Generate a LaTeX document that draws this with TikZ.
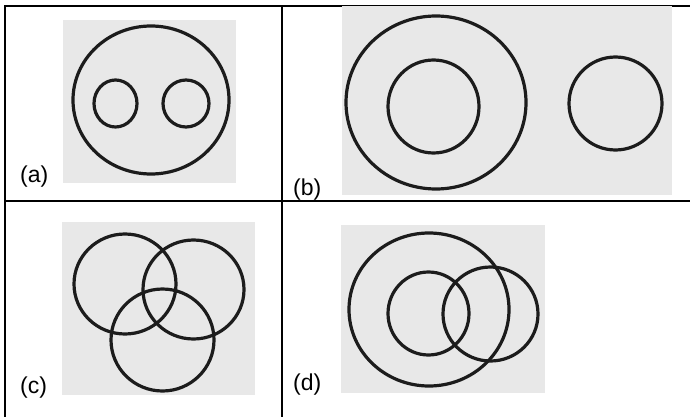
\documentclass[tikz,border=0pt]{standalone}
\usepackage{fontspec}
\setmainfont{Liberation Sans}
\begin{document}
\begin{tikzpicture}[x=1pt,y=-1pt,
  rule/.style={line width=2pt,black},
  photo/.style={fill={rgb,255:red,232;green,232;blue,232},draw=none},
  ring/.style={line width=3.2pt,draw={rgb,255:red,28;green,28;blue,28}},
  lab/.style={anchor=base west,inner sep=0pt,font=\fontsize{23}{23}\selectfont}]
\useasboundingbox[fill=white] (0,0) rectangle (690,417);
% table rules
\draw[rule] (5,417) -- (5,6.5) -- (690,6.5);
\draw[rule] (282,6.5) -- (282,417);
\draw[rule] (5,201) -- (690,201);
% (a)
\fill[photo] (63,20) rectangle (236,183);
\draw[ring] (151,100) ellipse [x radius=78,y radius=74];
\draw[ring] (115.5,103.5) ellipse [x radius=21.5,y radius=23.5];
\draw[ring] (186,103.5) ellipse [x radius=23,y radius=23.5];
\node[lab] (la) at (20,182) {(a)};
% (b)
\fill[photo] (342,6) rectangle (672,195);
\draw[ring] (436,102.5) ellipse [x radius=90,y radius=86.5];
\draw[ring] (433.5,106.5) ellipse [x radius=45.5,y radius=46.5];
\draw[ring] (615.5,103.5) ellipse [x radius=46.5,y radius=46.5];
\node[lab] (lb) at (293,195) {(b)};
% (c)
\fill[photo] (62,222) rectangle (255,395);
\draw[ring] (125,284) ellipse [x radius=51,y radius=50];
\draw[ring] (193.5,289.5) ellipse [x radius=50.5,y radius=49.5];
\draw[ring] (162.5,340) ellipse [x radius=51.5,y radius=51];
\node[lab] (lc) at (20,393) {(c)};
% (d)
\fill[photo] (341,225) rectangle (545,393);
\draw[ring] (429,309.5) ellipse [x radius=80,y radius=76.5];
\draw[ring] (428.5,313.5) ellipse [x radius=40.5,y radius=41.5];
\draw[ring] (490.5,314) ellipse [x radius=47.5,y radius=47];
\node[lab] (ld) at (293,390) {(d)};
\end{tikzpicture}
\end{document}
